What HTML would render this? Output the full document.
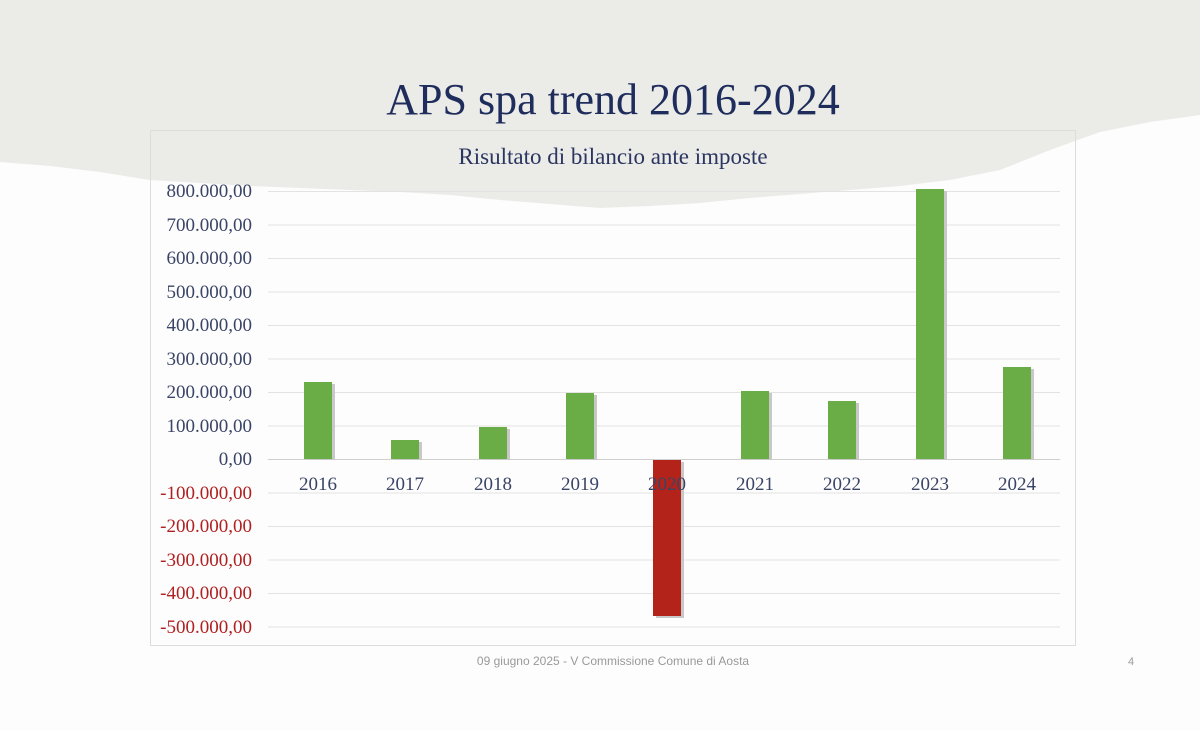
<!DOCTYPE html>
<html><head><meta charset="utf-8"><style>
html,body{margin:0;padding:0;width:1200px;height:731px;overflow:hidden;background:#fcfcfc;}
</style></head><body>
<svg width="1200" height="731" xmlns="http://www.w3.org/2000/svg" style="display:block">
<rect width="1200" height="731" fill="#fdfdfd"/>
<path d="M0,0 H1200 V115 L1150,122 L1100,132 L1050,150 L1000,170 L950,180 L900,186 L850,190 L800,194 L750,198 L700,203 L650,206 L600,208 L550,204 L500,200 L450,195 L400,192 L350,190 L300,188 L250,186 L200,183 L150,180 L100,172 L50,166 L0,162 Z" fill="#ebebe8"/>
<text x="613" y="114" text-anchor="middle" font-family="Liberation Serif, serif" font-size="44" fill="#1f2d5c">APS spa trend 2016-2024</text>
<rect x="150.5" y="130.5" width="925" height="515" fill="none" stroke="#dcdcdc"/>
<text x="613" y="164" text-anchor="middle" font-family="Liberation Serif, serif" font-size="23" fill="#2a3560">Risultato di bilancio ante imposte</text>
<g stroke="#e3e3e3" stroke-width="1">
<line x1="268" x2="1060" y1="191.5" y2="191.5"/><line x1="268" x2="1060" y1="225" y2="225"/>
<line x1="268" x2="1060" y1="258.5" y2="258.5"/><line x1="268" x2="1060" y1="292" y2="292"/>
<line x1="268" x2="1060" y1="325.5" y2="325.5"/><line x1="268" x2="1060" y1="359" y2="359"/>
<line x1="268" x2="1060" y1="392.5" y2="392.5"/><line x1="268" x2="1060" y1="426" y2="426"/>
<line x1="268" x2="1060" y1="493" y2="493"/><line x1="268" x2="1060" y1="526.5" y2="526.5"/>
<line x1="268" x2="1060" y1="560" y2="560"/><line x1="268" x2="1060" y1="593.5" y2="593.5"/>
<line x1="268" x2="1060" y1="627" y2="627"/>
</g>
<line x1="268" x2="1060" y1="459.5" y2="459.5" stroke="#cfcfcf"/>
<g font-family="Liberation Serif, serif" font-size="19" text-anchor="end">
<g fill="#3a4466">
<text x="252" y="197">800.000,00</text><text x="252" y="231">700.000,00</text>
<text x="252" y="264">600.000,00</text><text x="252" y="298">500.000,00</text>
<text x="252" y="331">400.000,00</text><text x="252" y="365">300.000,00</text>
<text x="252" y="398">200.000,00</text><text x="252" y="432">100.000,00</text>
<text x="252" y="465">0,00</text></g>
<g fill="#b02020">
<text x="252" y="499">-100.000,00</text><text x="252" y="532">-200.000,00</text>
<text x="252" y="566">-300.000,00</text><text x="252" y="599">-400.000,00</text>
<text x="252" y="633">-500.000,00</text></g>
</g>
<g fill="#c8c8c8">
<rect x="307" y="384" width="28" height="76"/><rect x="394" y="442" width="28" height="18"/>
<rect x="482" y="429" width="28" height="31"/><rect x="569" y="395" width="28" height="65"/>
<rect x="656" y="462" width="28" height="156"/><rect x="744" y="393" width="28" height="67"/>
<rect x="831" y="403" width="28" height="57"/><rect x="919" y="191" width="28" height="269"/>
<rect x="1006" y="369" width="28" height="91"/>
</g>
<g fill="#6aac46">
<rect x="304" y="382" width="28" height="77"/><rect x="391" y="440" width="28" height="19"/>
<rect x="479" y="427" width="28" height="32"/><rect x="566" y="393" width="28" height="66"/>
<rect x="741" y="391" width="28" height="68"/><rect x="828" y="401" width="28" height="58"/>
<rect x="916" y="189" width="28" height="270"/><rect x="1003" y="367" width="28" height="92"/>
</g>
<rect x="653" y="460" width="28" height="156" fill="#b4231a"/>
<g font-family="Liberation Serif, serif" font-size="19" fill="#3a4466" text-anchor="middle">
<text x="318" y="490">2016</text><text x="405" y="490">2017</text><text x="493" y="490">2018</text>
<text x="580" y="490">2019</text><text x="667" y="490">2020</text><text x="755" y="490">2021</text>
<text x="842" y="490">2022</text><text x="930" y="490">2023</text><text x="1017" y="490">2024</text>
</g>
<text x="613" y="665" text-anchor="middle" font-family="Liberation Sans, sans-serif" font-size="12" fill="#999">09 giugno 2025 - V Commissione Comune di Aosta</text>
<text x="1131" y="665" text-anchor="middle" font-family="Liberation Sans, sans-serif" font-size="11" fill="#999">4</text>
</svg>
</body></html>
